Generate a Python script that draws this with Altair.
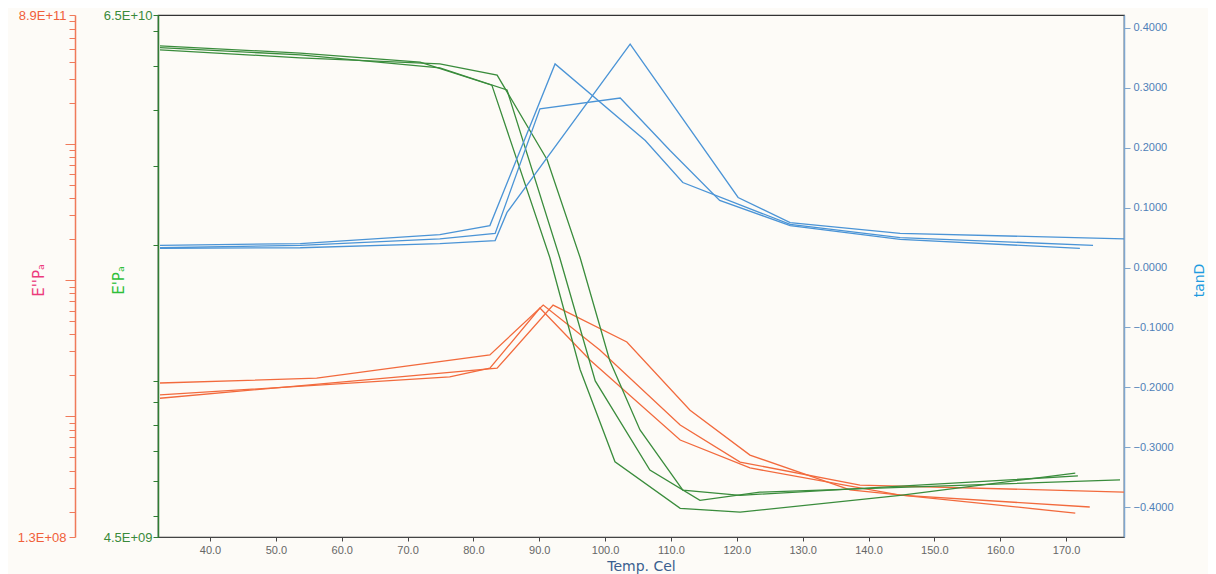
import altair as alt
import pandas as pd

# ---------------- data ----------------
# E' (storage modulus, Pa) - three samples
g1_t = [32.4, 53.7, 71.9, 82.8, 91.6, 96.2, 101.5, 111.4, 120.5, 144.8, 171.4]
g1_v = [5.55e10, 5.35e10, 5.11e10, 4.54e10, 1.88e10, 1.06e10, 6.61e9, 5.21e9, 5.11e9, 5.57e9, 6.24e9]
g2_t = [32.4, 53.7, 74.9, 85.1, 93.1, 98.5, 106.8, 114.4, 123.5, 178.2]
g2_v = [5.50e10, 5.30e10, 4.96e10, 4.43e10, 1.88e10, 1.00e10, 6.34e9, 5.43e9, 5.66e9, 6.03e9]
g3_t = [32.4, 53.7, 74.9, 83.6, 91.2, 96.2, 100.7, 105.3, 111.8, 120.5, 171.8]
g3_v = [5.44e10, 5.22e10, 5.06e10, 4.78e10, 3.10e10, 1.88e10, 1.11e10, 7.78e9, 5.72e9, 5.57e9, 6.15e9]

# E'' (loss modulus, Pa) - three samples
r1_t = [32.4, 56.2, 82.5, 90.6, 99.2, 111.4, 120.5, 138.7, 178.8]
r1_v = [1.76e9, 1.91e9, 2.83e9, 6.58e9, 3.08e9, 8.65e8, 4.62e8, 3.13e8, 2.78e8]
r2_t = [32.4, 76.4, 82.5, 90.1, 97.7, 111.4, 122.0, 144.8, 173.6]
r2_v = [1.44e9, 1.95e9, 2.26e9, 6.25e9, 2.60e9, 6.71e8, 4.18e8, 2.64e8, 2.16e8]
r3_t = [32.4, 83.6, 92.1, 103.3, 112.9, 122.0, 137.2, 171.4]
r3_v = [1.36e9, 2.26e9, 6.58e9, 3.52e9, 1.11e9, 5.20e8, 2.88e8, 1.95e8]

# tan delta - three samples
b1_t = [32.4, 53.7, 74.9, 83.3, 85.1, 103.8, 120.2, 128.1, 144.8, 178.8]
b1_v = [0.032, 0.033, 0.040, 0.045, 0.092, 0.373, 0.117, 0.075, 0.057, 0.048]
b2_t = [32.4, 53.7, 74.9, 82.5, 92.4, 106.1, 111.8, 128.1, 144.8, 174.1]
b2_v = [0.037, 0.040, 0.055, 0.070, 0.340, 0.212, 0.142, 0.072, 0.050, 0.037]
b3_t = [32.4, 53.7, 74.9, 83.3, 90.1, 102.3, 109.9, 117.4, 128.1, 144.8, 172.1]
b3_v = [0.033, 0.037, 0.048, 0.057, 0.265, 0.283, 0.195, 0.112, 0.070, 0.047, 0.032]

# axes
x_domain = [32.1, 178.8]
x_ticks = [40, 50, 60, 70, 80, 90, 100, 110, 120, 130, 140, 150, 160, 170]
red_domain = [1.3e8, 8.9e11]
red_ticks = [1.3e8, 2e8, 3e8, 4e8, 5e8, 6e8, 7e8, 8e8, 9e8,
             1e9, 2e9, 3e9, 4e9, 5e9, 6e9, 7e9, 8e9, 9e9,
             1e10, 2e10, 3e10, 4e10, 5e10, 6e10, 7e10, 8e10, 9e10,
             1e11, 2e11, 3e11, 4e11, 5e11, 6e11, 7e11, 8e11, 8.9e11]
red_end_labels = ["1.3E+08", "8.9E+11"]
green_domain = [4.5e9, 6.5e10]
green_ticks = [4.5e9, 5e9, 6e9, 7e9, 8e9, 9e9, 1e10, 2e10, 3e10, 4e10, 5e10, 6e10, 6.5e10]
green_end_labels = ["4.5E+09", "6.5E+10"]
blue_domain = [-0.45, 0.4217]
blue_ticks = [-0.4, -0.3, -0.2, -0.1, 0.0, 0.1, 0.2, 0.3, 0.4]


def frame(curves):
    rows = []
    for name, ts, vs in curves:
        for t, v in zip(ts, vs):
            rows.append({"T": t, "v": v, "sample": name})
    return pd.DataFrame(rows)


red_df = frame([("r1", r1_t, r1_v), ("r2", r2_t, r2_v), ("r3", r3_t, r3_v)])
green_df = frame([("g1", g1_t, g1_v), ("g2", g2_t, g2_v), ("g3", g3_t, g3_v)])
blue_df = frame([("b1", b1_t, b1_v), ("b2", b2_t, b2_v), ("b3", b3_t, b3_v)])


def end_label_expr(domain, labels):
    return (f"datum.value == {domain[0]!r} ? '{labels[0]}' : "
            f"datum.value == {domain[1]!r} ? '{labels[1]}' : ''")


x_enc = alt.X(
    "T:Q",
    scale=alt.Scale(domain=x_domain, nice=False, zero=False),
    axis=alt.Axis(
        values=x_ticks, format=".1f", title="Temp. Cel",
        domainColor="#444", domainWidth=1.2, tickColor="#444", tickSize=4,
        labelColor="#666", labelFontSize=11, labelPadding=3, labelFlush=False,
        titleColor="#3a5f8f", titleFontSize=14, titleFontWeight="normal",
        titlePadding=4,
    ),
)

red = alt.Chart(red_df).mark_line(color="#f26a3d", strokeWidth=1.3, clip=True).encode(
    x=x_enc,
    y=alt.Y(
        "v:Q",
        scale=alt.Scale(type="log", domain=red_domain, nice=False),
        axis=alt.Axis(
            orient="left", offset=83, values=red_ticks,
            labelExpr=end_label_expr(red_domain, red_end_labels),
            labelOverlap=False, labelFlush=False,
            domainColor="#f07a5a", domainWidth=1.5, tickColor="#f07a5a",
            tickSize={"condition": {"test": "abs(log(datum.value)/LN10 - round(log(datum.value)/LN10)) < 0.01", "value": 10}, "value": 6},
            labelColor="#f0603a", labelFontSize=13, labelPadding=3,
            title="E''Pₐ", titleColor="#ec3a7c", titleFontSize=15,
            titleFontWeight="normal", titleX=-37, titleY=265,
            titleAngle=270, titleBaseline="middle",
        ),
    ),
    detail="sample:N",
)

green = alt.Chart(green_df).mark_line(color="#3a8c3c", strokeWidth=1.3, clip=True).encode(
    x=x_enc,
    y=alt.Y(
        "v:Q",
        scale=alt.Scale(type="log", domain=green_domain, nice=False),
        axis=alt.Axis(
            orient="left", offset=0, values=green_ticks,
            labelExpr=end_label_expr(green_domain, green_end_labels),
            labelOverlap=False, labelFlush=False,
            domainColor="#2f7d32", domainWidth=1.5, tickColor="#2f7d32", tickSize=5,
            labelColor="#3a8a3a", labelFontSize=13, labelPadding=1,
            title="E'Pₐ", titleColor="#2fbf3a", titleFontSize=15,
            titleFontWeight="normal", titleX=-40, titleY=265,
            titleAngle=270, titleBaseline="middle",
        ),
    ),
    detail="sample:N",
)

blue = alt.Chart(blue_df).mark_line(color="#4b94d6", strokeWidth=1.3, clip=True).encode(
    x=x_enc,
    y=alt.Y(
        "v:Q",
        scale=alt.Scale(domain=blue_domain, nice=False, zero=False),
        axis=alt.Axis(
            orient="right", offset=0, values=blue_ticks, format=".4f",
            labelOverlap=False, labelFlush=False,
            domainColor="#7fa6cf", domainWidth=1.5, tickColor="#7fa6cf", tickSize=6,
            labelColor="#4f7fb8", labelFontSize=11, labelPadding=3,
            title="tanD", titleColor="#1e9be0", titleFontSize=14,
            titleFontWeight="normal", titleX=75, titleY=265,
            titleAngle=270, titleBaseline="middle",
        ),
    ),
    detail="sample:N",
)

chart = (
    alt.layer(red, green, blue)
    .resolve_scale(y="independent")
    .properties(
        width=966, height=522,
        autosize=alt.AutoSizeParams(type="none"),
        padding={"left": 150, "top": 7, "right": 84, "bottom": 38},
        background="#fdfbf7",
    )
    .configure_view(stroke="#333", strokeWidth=1.2)
    .configure_axis(grid=False, labelFont="Liberation Sans", titleFont="DejaVu Sans")
)

chart.save("out.html", embed_options={"renderer": "svg", "actions": False})
